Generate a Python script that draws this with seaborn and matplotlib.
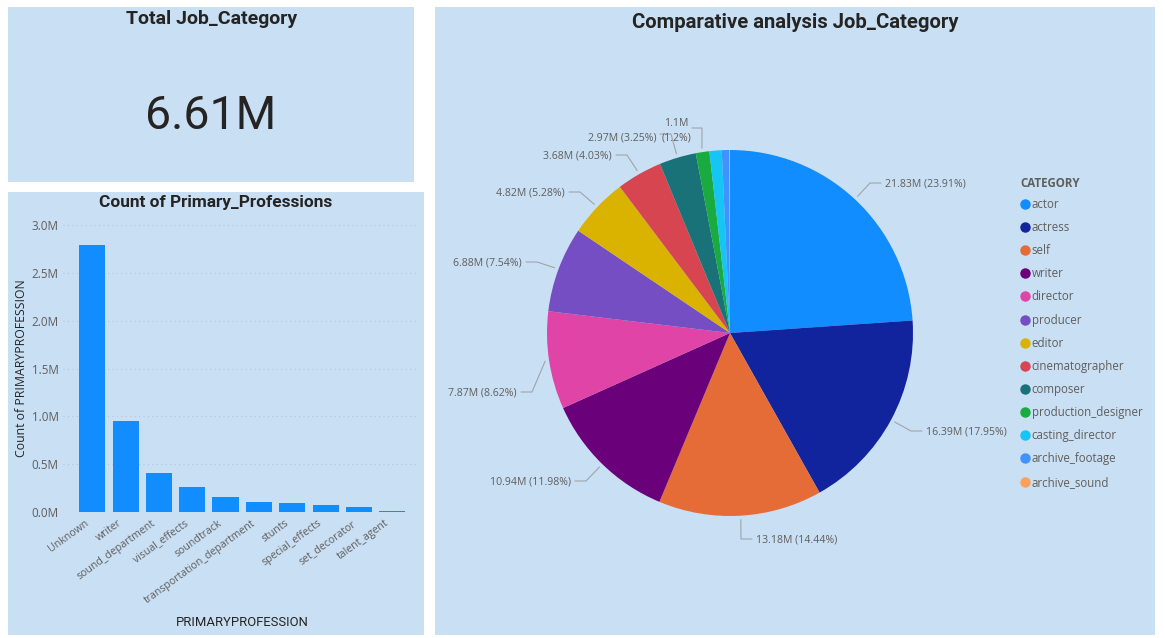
import matplotlib
matplotlib.use('Agg')
import matplotlib.pyplot as plt
import seaborn as sns
from matplotlib.lines import Line2D
from matplotlib.patches import Rectangle
from matplotlib.ticker import FuncFormatter
from matplotlib.transforms import ScaledTranslation
import numpy as np

# bar chart values
professions = ['Unknown', 'writer', 'sound_department', 'visual_effects', 'soundtrack',
               'transportation_department', 'stunts', 'special_effects', 'set_decorator',
               'talent_agent']
profession_counts = [2790000, 950000, 414000, 260000, 156000, 111000, 94000, 73000, 59000, 17000]

# pie values, in percent of the total
categories = ['actor', 'actress', 'self', 'writer', 'director', 'producer', 'editor',
              'cinematographer', 'composer', 'production_designer', 'casting_director',
              'archive_footage', 'archive_sound']
category_share = [23.91, 17.95, 14.44, 11.98, 8.62, 7.54, 5.28, 4.03, 3.25, 1.2, 1.08, 0.65, 0.07]
pie_labels = ['21.83M (23.91%)', '16.39M (17.95%)', '13.18M (14.44%)', '10.94M (11.98%)',
              '7.87M (8.62%)', '6.88M (7.54%)', '4.82M (5.28%)', '3.68M (4.03%)',
              '2.97M (3.25%)', '1.1M\n(1.2%)']

pie_colors = ['#118DFF', '#12239E', '#E66C37', '#6B007B', '#E044A7', '#744EC2', '#D9B300',
              '#D64550', '#197278', '#1AAB40', '#15C6F4', '#4092FF', '#FFA058']

W, H = 1165, 638
PANEL = '#C9DFF4'
GREY = '#605E5C'
DARK = '#252423'
LEADER = '#A0A4A8'
TITLE_FONT = 'Roboto'
BODY_FONT = 'Open Sans'

sns.set_theme(style='white')
plt.rcParams['font.family'] = [BODY_FONT, 'DejaVu Sans']

fig = plt.figure(figsize=(W / 100, H / 100), dpi=100, facecolor='white')


def fx(px):
    return px / W


def fy(py):
    return 1 - py / H


def panel(x0, y0, x1, y1):
    fig.add_artist(Rectangle((fx(x0), fy(y1)), (x1 - x0) / W, (y1 - y0) / H,
                             transform=fig.transFigure, facecolor=PANEL,
                             edgecolor='none', zorder=-5))


def title(cx, cy, txt, size=14):
    fig.text(fx(cx), fy(cy), txt, ha='center', va='center', family=TITLE_FONT,
             fontweight='bold', fontsize=size, color=DARK)


panel(8, 7, 414, 182)
panel(8, 192, 424, 635)
panel(435, 7, 1155, 635)

# KPI card
title(212, 19, 'Total Job_Category')
fig.text(fx(211), fy(116), '6.61M', ha='center', va='center', family=TITLE_FONT,
         fontsize=33.5, color=DARK)

# bar chart
title(215.5, 203, 'Count of Primary_Professions', 12.4)
ax = fig.add_axes([fx(63), fy(512.3), (418 - 63) / W, (512.3 - 224.7) / H])
ax.patch.set_alpha(0)
sns.barplot(x=professions, y=profession_counts, color='#118DFF', saturation=1,
            width=0.79, linewidth=0, ax=ax)
ax.set_xlim(-0.88, 9.77)
ax.set_ylim(0, 3000000)
ax.set_yticks(np.arange(0, 3000001, 500000))
ax.yaxis.set_major_formatter(FuncFormatter(lambda v, _: f'{v / 1e6:.1f}M'))
ax.grid(axis='y', linestyle=(0, (1, 3)), color='#B9C6D2', linewidth=0.8)
ax.set_axisbelow(True)
sns.despine(ax=ax, left=True, bottom=True)
ax.tick_params(axis='y', length=0, pad=3, labelsize=8.4, labelcolor=GREY)
ax.tick_params(axis='x', length=0, pad=4, labelsize=7.6, labelcolor=GREY)
shift = ScaledTranslation(-8 / 100, 0, fig.dpi_scale_trans)
for lab in ax.get_xticklabels():
    lab.set(rotation=36, ha='right', rotation_mode='anchor')
    lab.set_transform(lab.get_transform() + shift)
fig.text(fx(22), fy(368), 'Count of PRIMARYPROFESSION', rotation=90, ha='center',
         va='center', fontsize=8.8, color=DARK)
fig.text(fx(242), fy(623), 'PRIMARYPROFESSION', ha='center', va='center',
         family=TITLE_FONT, fontsize=9.4, color=DARK)

# pie chart, axes in pixel units with y pointing up
title(795, 22, 'Comparative analysis Job_Category', 14.6)
pie_ax = fig.add_axes([fx(435), fy(635), (1155 - 435) / W, (635 - 7) / H])
pie_ax.patch.set_alpha(0)
cx, cy, radius = 730, H - 333, 183
wedges, _ = pie_ax.pie(category_share, colors=pie_colors, startangle=90, counterclock=False,
                       center=(cx, cy), radius=radius, frame=False,
                       wedgeprops={'linewidth': 0, 'edgecolor': 'none'})
pie_ax.set_xlim(435, 1155)
pie_ax.set_ylim(H - 635, H - 7)
pie_ax.set_aspect('equal')
pie_ax.axis('off')

# where each pie label sits: text anchor in reference pixels, side facing the pie
label_x = [885, 926, 756, 571, 517, 522, 565, 612, 656, 665]
label_y = [183, 431, 539, 481, 392, 262, 192, 155, 137, 122]
label_ha = ['left', 'left', 'left', 'right', 'right', 'right', 'right', 'right', 'right', 'left']
leader_dy = [0, 0, 0, 0, 0, 0, 0, 0, 3, -6]

for wedge, txt, lx, ly, ha, dy in zip(wedges, pie_labels, label_x, label_y, label_ha, leader_dy):
    mid = np.deg2rad((wedge.theta1 + wedge.theta2) / 2)
    ex = cx + (radius + 4) * np.cos(mid)
    ey = cy + (radius + 4) * np.sin(mid)
    ty = H - ly
    if '\n' in txt:
        # two line label, leader starts right of the first line
        first, second = txt.split('\n')
        pie_ax.plot([lx + 27, lx + 37, ex], [ty + dy, ty + dy, ey], color=LEADER, lw=0.8)
        pie_ax.text(lx + 11, ty - 1, first, ha='center', va='center', fontsize=7.6, color=GREY)
        pie_ax.text(lx + 11, ty - 16, second, ha='center', va='center', fontsize=7.6, color=GREY)
        continue
    side = -1 if ha == 'left' else 1
    pie_ax.plot([lx + side * 4, lx + side * 15, ex], [ty + dy, ty + dy, ey], color=LEADER, lw=0.8)
    pie_ax.text(lx, ty - 1, txt, ha=ha, va='center', fontsize=7.6, color=GREY)

# legend
fig.text(fx(1020), fy(184), 'CATEGORY', ha='left', va='center', fontweight='bold',
         fontsize=8.3, color=GREY)
handles = [Line2D([], [], linestyle='none', marker='o', markersize=6.5, color=c)
           for c in pie_colors]
fig.legend(handles, categories, loc='upper left', bbox_to_anchor=(fx(1010), fy(187.5)),
           frameon=False, fontsize=8.3, labelcolor=GREY, labelspacing=0.88,
           handlelength=0.8, handletextpad=0.18, borderpad=0.4)

fig.savefig('out.png', dpi=100, facecolor='white')
